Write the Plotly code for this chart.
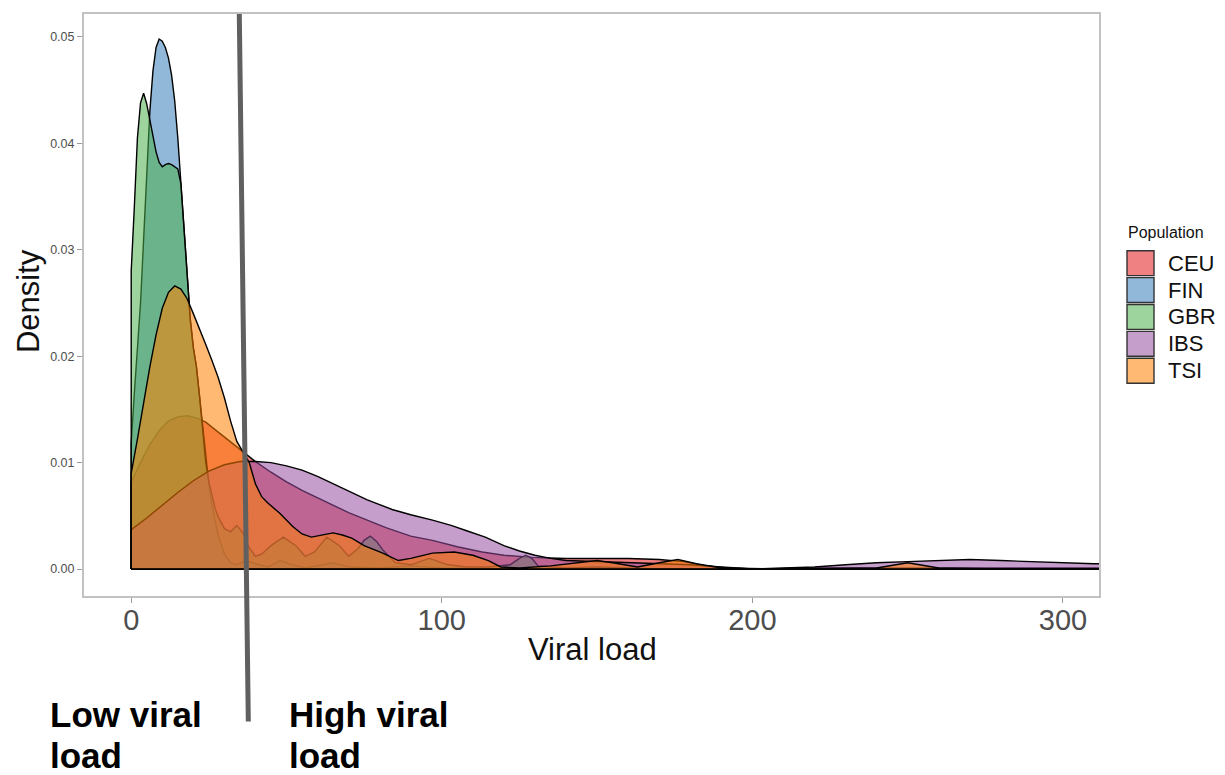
import plotly.graph_objects as go

# ---------------- data ----------------
populations = ["CEU", "FIN", "GBR", "IBS", "TSI"]
pop_colors = ["rgba(228,26,28,0.55)", "rgba(55,126,184,0.55)", "rgba(77,175,74,0.55)",
              "rgba(152,78,163,0.55)", "rgba(255,127,0,0.55)"]

ceu_x = [0, 3, 6, 9, 12, 15, 18, 21, 24, 27, 30, 33, 36, 40, 45, 50, 55, 60, 65, 70, 76, 82, 90, 97,
         105, 113, 120, 129, 140, 150, 160, 170, 178, 185, 192, 200, 220, 250, 280, 330]
ceu_y = [0.0082, 0.0100, 0.0117, 0.0130, 0.0139, 0.0143, 0.0144, 0.0142, 0.0138, 0.0131, 0.0124,
         0.0117, 0.0110, 0.0101, 0.0091, 0.0082, 0.0074, 0.0067, 0.0060, 0.0053, 0.0046, 0.0039,
         0.0031, 0.0027, 0.0021, 0.0016, 0.0013, 0.0011, 0.0010, 0.0010, 0.0010, 0.0009, 0.0007,
         0.0003, 0.0001, 0.0000, 0.0001, 0.0001, 0.0001, 0.0001]

fin_x = [0, 1, 2, 3, 4, 5, 6, 7, 8, 9, 10, 11, 12, 13, 14, 15, 16, 17, 18, 19, 20, 21, 22, 23, 24,
         25, 26, 27, 28, 30, 32, 34, 37, 40, 44, 48, 52, 56, 60, 65, 70, 80, 90, 100, 120, 160, 200]
fin_y = [0.0118, 0.0165, 0.0210, 0.0250, 0.0310, 0.0370, 0.0430, 0.0468, 0.0490, 0.0498, 0.0496,
         0.0490, 0.0480, 0.0464, 0.0440, 0.0405, 0.0365, 0.0322, 0.0278, 0.0235, 0.0208, 0.0190,
         0.0162, 0.0132, 0.0102, 0.0080, 0.0060, 0.0045, 0.0032, 0.0014, 0.0006, 0.0004, 0.0008,
         0.0005, 0.0002, 0.0008, 0.0004, 0.0001, 0.0003, 0.0006, 0.0002, 0.0001, 0.0003, 0.0001,
         0.0000, 0.0000, 0.0000]

gbr_x = [0, 1, 2, 3, 4, 5, 6, 7, 8, 9, 10, 11, 12, 13, 14, 15, 16, 17, 18, 19, 20, 21, 22, 23, 24,
         25, 26, 27, 28, 30, 32, 34, 36, 38, 40, 42, 45, 49, 53, 56, 59, 63, 67, 70, 73, 75, 77, 79,
         81, 85, 90, 96, 102, 108, 115, 122, 125, 127, 129, 131, 140, 150, 170, 200]
gbr_y = [0.0280, 0.0340, 0.0405, 0.0438, 0.0447, 0.0437, 0.0422, 0.0405, 0.0392, 0.0382, 0.0378,
         0.0380, 0.0381, 0.0380, 0.0378, 0.0376, 0.0362, 0.0322, 0.0278, 0.0235, 0.0208, 0.0190,
         0.0162, 0.0130, 0.0100, 0.0082, 0.0068, 0.0057, 0.0049, 0.0038, 0.0035, 0.0041, 0.0034,
         0.0020, 0.0012, 0.0014, 0.0022, 0.0030, 0.0022, 0.0012, 0.0016, 0.0030, 0.0022, 0.0012,
         0.0019, 0.0027, 0.0031, 0.0026, 0.0018, 0.0006, 0.0004, 0.0010, 0.0004, 0.0002, 0.0002,
         0.0004, 0.0010, 0.0013, 0.0010, 0.0003, 0.0001, 0.0002, 0.0000, 0.0000]

ibs_x = [0, 5, 10, 15, 20, 25, 30, 35, 40, 45, 50, 55, 60, 65, 70, 76, 84, 90, 97, 103, 108, 114,
         120, 125, 130, 135, 140, 150, 160, 170, 180, 190, 200, 210, 220, 230, 240, 250, 260, 270,
         280, 290, 300, 310, 330]
ibs_y = [0.0037, 0.0048, 0.0060, 0.0072, 0.0083, 0.0092, 0.0098, 0.0101, 0.0101, 0.0100, 0.0097,
         0.0093, 0.0087, 0.0080, 0.0073, 0.0065, 0.0056, 0.0051, 0.0046, 0.0041, 0.0036, 0.0030,
         0.0022, 0.0017, 0.0013, 0.0010, 0.0008, 0.0007, 0.0006, 0.0005, 0.0004, 0.0002, 0.0000,
         0.0001, 0.0002, 0.0004, 0.0006, 0.0007, 0.0008, 0.0009, 0.0008, 0.0007, 0.0006, 0.0005,
         0.0005]

tsi_x = [0, 2, 4, 6, 8, 10, 12, 14, 16, 18, 20, 22, 24, 26, 28, 30, 32, 34, 36, 38, 40, 42, 44, 48,
         52, 55, 58, 62, 65, 68, 71, 75, 81, 86, 90, 97, 104, 110, 115, 119, 125, 135, 145, 150, 155,
         163, 170, 176, 182, 190, 210, 240, 250, 260, 280, 330]
tsi_y = [0.0090, 0.0122, 0.0157, 0.0190, 0.0220, 0.0245, 0.0260, 0.0266, 0.0263, 0.0254, 0.0240,
         0.0226, 0.0211, 0.0196, 0.0180, 0.0161, 0.0139, 0.0120, 0.0110, 0.0100, 0.0080, 0.0068,
         0.0062, 0.0052, 0.0040, 0.0033, 0.0030, 0.0032, 0.0034, 0.0032, 0.0029, 0.0022, 0.0015,
         0.0008, 0.0010, 0.0015, 0.0016, 0.0013, 0.0008, 0.0002, 0.0001, 0.0003, 0.0006, 0.0008,
         0.0006, 0.0002, 0.0006, 0.0009, 0.0005, 0.0001, 0.0000, 0.0001, 0.0006, 0.0001, 0.0000,
         0.0000]

series_x = [ceu_x, fin_x, gbr_x, ibs_x, tsi_x]
series_y = [ceu_y, fin_y, gbr_y, ibs_y, tsi_y]

x_ticks = [0, 100, 200, 300]
y_ticks = [0.00, 0.01, 0.02, 0.03, 0.04, 0.05]
threshold_top, threshold_bottom = 34.8, 37.7   # the slanted cut-off marker (viral load units)

FONT = "Liberation Sans, Arial, Helvetica, sans-serif"

fig = go.Figure()
for name, col, xs, ys in zip(populations, pop_colors, series_x, series_y):
    px_ = [xs[0]] + list(xs) + [xs[-1], xs[0]]
    py_ = [0] + list(ys) + [0, 0]
    fig.add_trace(go.Scatter(x=px_, y=py_, mode="lines", fill="toself", fillcolor=col,
                             line=dict(color="black", width=1.4), name=name, showlegend=False,
                             hoverinfo="skip"))

# the page body has an 8px default margin, so the figure is drawn offset by 8px
OFF = 8
W, H = 1225 - OFF, 775 - OFF
ml, mr, mt, mb = 84 - OFF, 126, 12 - OFF, 179
pw, ph = W - ml - mr, H - mt - mb


def px2paper_x(p):
    return (p - OFF - ml) / pw


def px2paper_y(p):
    return (H - mb - (p - OFF)) / ph


fig.update_layout(
    width=W, height=H, margin=dict(l=ml, r=mr, t=mt, b=mb, pad=0),
    paper_bgcolor="white", plot_bgcolor="white", showlegend=False,
    font=dict(family=FONT),
    xaxis=dict(range=[-15.2, 311.6], tickvals=x_ticks, ticktext=[str(v) for v in x_ticks],
               showgrid=False, zeroline=False, ticks="outside", ticklen=5, tickwidth=1,
               tickcolor="#9a9a9a", tickfont=dict(size=29, color="#4D4D4D", family=FONT),
               ticklabelstandoff=-8,
               showline=True, mirror=True, linecolor="#c2c2c2", linewidth=2),
    yaxis=dict(range=[-0.00253, 0.05215], tickvals=y_ticks, ticktext=[f"{v:.2f}" for v in y_ticks],
               showgrid=False, zeroline=False, ticks="outside", ticklen=5, tickwidth=1,
               tickcolor="#9a9a9a", tickfont=dict(size=12.5, color="#4D4D4D", family=FONT),
               showline=True, mirror=True, linecolor="#c2c2c2", linewidth=2),
)

# slanted marker line separating low / high viral load
fig.add_shape(type="line", xref="x", yref="paper", x0=threshold_top, y0=1.0,
              x1=threshold_bottom, y1=px2paper_y(722),
              line=dict(color="#606060", width=5))

ann = []
ann.append(dict(text="Viral load", xref="paper", yref="paper", x=px2paper_x(592), y=px2paper_y(650),
                showarrow=False, font=dict(size=31, color="#111111", family=FONT),
                xanchor="center", yanchor="middle"))
ann.append(dict(text="Density", xref="paper", yref="paper", x=px2paper_x(28), y=px2paper_y(300),
                showarrow=False, textangle=-90, font=dict(size=31, color="#111111", family=FONT),
                xanchor="center", yanchor="middle"))
for txt, xp, yp in [("Low viral", 48, 715), ("load", 48, 756),
                    ("High viral", 287, 715), ("load", 287, 756)]:
    ann.append(dict(text=f"<b>{txt}</b>", xref="paper", yref="paper", x=px2paper_x(xp),
                    y=px2paper_y(yp), showarrow=False, xanchor="left", yanchor="middle",
                    font=dict(size=35, color="black", family=FONT)))

# legend
ann.append(dict(text="Population", xref="paper", yref="paper", x=px2paper_x(1126),
                y=px2paper_y(231), showarrow=False, xanchor="left", yanchor="middle",
                font=dict(size=16, color="#111111", family=FONT)))
for i, (name, col) in enumerate(zip(populations, pop_colors)):
    cy = 262 + 27 * i
    fig.add_shape(type="rect", xref="paper", yref="paper",
                  x0=px2paper_x(1127), x1=px2paper_x(1154),
                  y0=px2paper_y(cy - 12.5), y1=px2paper_y(cy + 12.5),
                  fillcolor=col, line=dict(color="#333333", width=1.4))
    ann.append(dict(text=name, xref="paper", yref="paper", x=px2paper_x(1166), y=px2paper_y(cy),
                    showarrow=False, xanchor="left", yanchor="middle",
                    font=dict(size=22, color="#111111", family=FONT)))

fig.update_layout(annotations=ann)
fig.write_html("out.html")
